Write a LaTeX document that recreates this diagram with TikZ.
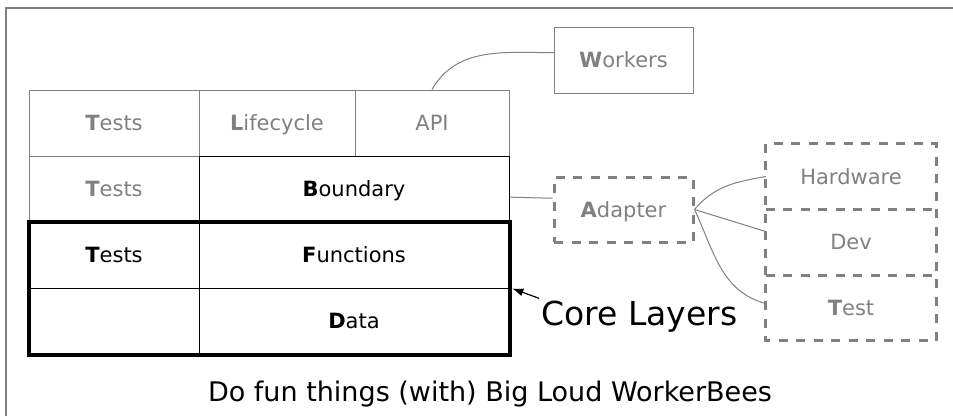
\documentclass[tikz,border=0pt]{standalone}
\usepackage{fontspec}
\setmainfont{DejaVu Sans}
\usepackage{tikz}
\usetikzlibrary{arrows.meta, calc}
\definecolor{layergray}{HTML}{808080}

\begin{document}
\begin{tikzpicture}[x=1pt, y=-1pt,
  every node/.style={font=\fontsize{21}{25}\selectfont},
  cell/.style={draw=black, line width=1pt, minimum height=66pt, inner sep=0pt, text height=15.5pt, text depth=0pt},
  greycell/.style={cell, draw=layergray, text=layergray},
  dashbox/.style={text=layergray, minimum width=170pt, minimum height=65pt, inner sep=0pt, text height=15.5pt, text depth=0pt},
  dashline/.style={draw=layergray, line width=3pt, dash pattern=on 9pt off 8.5pt},
  link/.style={draw=layergray, line width=1pt}]
  \useasboundingbox (0,0) rectangle (953,416);

  % Frame
  \draw[layergray, line width=1.5pt] (6,416) -- (6,8) -- (953,8);

  % Outer layers (grey)
  \node[greycell, minimum width=170pt] (tests1) at (114,123) {\textbf{T}ests};
  \node[greycell, minimum width=156pt] (lifecycle) at (277,123) {\textbf{L}ifecycle};
  \node[greycell, minimum width=154pt] (api) at (432,123) {API};
  \node[greycell, minimum width=170pt] (tests2) at (114,189) {\textbf{T}ests};

  % Inner layers
  \node[cell, minimum width=310pt] (boundary) at (354,189) {\textbf{B}oundary};
  \node[cell, minimum width=170pt] (tests3) at (114,255) {\textbf{T}ests};
  \node[cell, minimum width=310pt] (functions) at (354,255) {\textbf{F}unctions};
  \node[cell, minimum width=170pt] (blank) at (114,321) {};
  \node[cell, minimum width=310pt] (data) at (354,321) {\textbf{D}ata};

  % Core box
  \draw[line width=4pt] (tests3.north west) rectangle (data.south east);

  % Workers
  \node[greycell, minimum width=139pt] (workers) at (623.5,60) {\textbf{W}orkers};
  \draw[link] (api.north) to[out=60, in=180] (workers.174);

  % Adapter and its targets
  \node[dashbox, dashline, minimum width=139pt] (adapter) at (623.5,209.5) {\textbf{A}dapter};
  \draw[link] (boundary.-3) -- (adapter.171);

  \foreach \name/\word/\y in {hardware/Hardware/176.5, dev/Dev/242, test/\textbf{T}est/308}
    \node[dashbox] (\name) at (851,\y) {\word};
  \draw[dashline] (hardware.north west) rectangle (test.south east);
  \draw[dashline] (hardware.south west) -- (hardware.south east);
  \draw[dashline] (test.north west) -- (test.north east);

  \draw[link] (adapter.east) to[out=50, in=190] (hardware.west);
  \draw[link] (adapter.east) -- (dev.173);
  \draw[link] (adapter.east) to[out=-65, in=165] (test.177);

  % Labels
  \node[font=\fontsize{33}{40}\selectfont, anchor=base west, inner sep=2pt] (corelabel) at (539,325) {Core Layers};
  \draw[line width=1.2pt, -{Latex[length=11pt,width=8pt]}, shorten >=3pt] (corelabel.north west) -- (data.north east);
  \node[font=\fontsize{27}{32}\selectfont, anchor=base] (caption) at (490,401) {Do fun things (with) Big Loud WorkerBees};
\end{tikzpicture}
\end{document}
